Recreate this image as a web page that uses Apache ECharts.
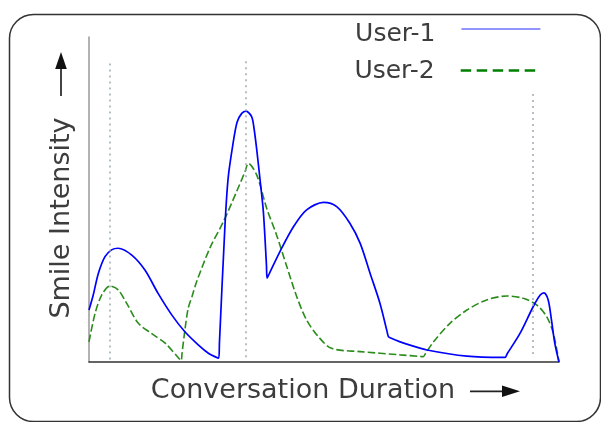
<!DOCTYPE html>
<html>
<head>
<meta charset="utf-8">
<script src="https://cdn.jsdelivr.net/npm/echarts@6/dist/echarts.min.js"></script>
<style>
html,body{margin:0;padding:0;background:#fff;}
#chart{width:601px;height:422px;}
</style>
</head>
<body>
<div id="chart"></div>
<script>
// Series names
var seriesNames = ['User-1', 'User-2'];
// User-1 (solid blue): position in conversation (0-100) and smile intensity (0-100)
var user1X = [0, 0.9, 2.0, 3.4, 4.8, 6.2, 9.1, 11.9, 14.7, 17.6, 20.4, 23.3, 25.4, 27.0, 27.6, 27.75, 28.9, 29.6, 30.6, 31.5, 32.5, 33.4, 34.6, 35.1, 35.7, 36.4, 37.1, 37.75, 37.9, 38.3, 40.6, 43.5, 46.3, 49.9, 52.7, 55.5, 57.7, 59.8, 61.9, 63.4, 63.7, 64.2, 66.2, 68.3, 71.9, 80.4, 87.8, 88.5, 89.0, 91.7, 94.5, 96.0, 96.8, 97.7, 98.4, 99.1, 100];
var user1Y = [16.0, 20.6, 27.3, 32.4, 34.5, 35.0, 32.9, 28.3, 21.1, 14.5, 9.3, 5.2, 2.7, 1.5, 1.2, 5.8, 41.2, 56.5, 66.8, 73.8, 76.5, 77.2, 75.5, 72.0, 65.2, 56.0, 46.2, 30.0, 25.8, 27.0, 33.9, 41.6, 46.8, 49.1, 47.8, 42.7, 36.5, 27.3, 18.1, 9.5, 7.8, 7.4, 6.2, 5.2, 3.7, 1.8, 1.4, 1.4, 2.6, 8.8, 17.0, 20.6, 21.3, 19.1, 12.9, 5.8, 0];
// User-2 (dashed green)
var user2X = [0, 1.3, 2.7, 4.5, 6.2, 8.0, 10.5, 13.3, 16.2, 19.2, 19.6, 19.8, 20.4, 21.1, 21.9, 22.9, 25.7, 28.6, 31.4, 33.2, 33.9, 35.7, 37.8, 39.9, 42.1, 44.2, 46.3, 48.8, 51.6, 57.7, 66.2, 70.6, 71.1, 71.5, 73.3, 76.8, 80.4, 84.6, 88.9, 92.4, 95.3, 97.4, 98.8, 100];
var user2Y = [6.2, 15.0, 20.6, 23.4, 22.2, 18.1, 11.9, 8.8, 5.8, 1.0, 0.4, 2.7, 9.8, 16.5, 20.1, 24.7, 35.0, 43.2, 52.4, 58.6, 61.1, 57.5, 47.3, 39.1, 29.3, 20.1, 12.9, 7.8, 4.2, 3.2, 2.2, 1.7, 1.6, 2.4, 6.2, 11.9, 16.0, 19.1, 20.3, 19.6, 17.5, 13.9, 8.8, 0];
// Vertical dotted reference lines: x position, bottom and top
var guideX = [4.5, 33.4, 94.5];
var guideBottom = [0.8, 1.5, 2.5];
var guideTop = [92, 93.8, 83.7];
// Axis titles
var xTitle = 'Conversation Duration';
var yTitle = 'Smile Intensity';

var font = 'DejaVu Sans';
var textColor = '#3d3d3d';

function pairs(xs, ys) { return xs.map(function (x, i) { return [x, ys[i]]; }); }

function legendFor(name, top, padTop, lineStyle) {
  return {
    orient: 'vertical', right: 60, top: top, padding: 0, align: 'right',
    itemWidth: 79, itemHeight: 14,
    data: [name],
    formatter: '{t|{name}}',
    itemStyle: {color: 'rgba(0,0,0,0)', borderColor: 'rgba(0,0,0,0)', borderWidth: 0, opacity: 0},
    lineStyle: lineStyle,
    textStyle: {
      fontFamily: font, fontSize: 25, color: textColor,
      rich: {t: {fontFamily: font, fontSize: 25, color: textColor, lineHeight: 30, padding: [padTop, 21, 0, 0]}}
    }
  };
}

var chart = echarts.init(document.getElementById('chart'), null, {renderer: 'canvas'});
chart.setOption({
  animation: false,
  backgroundColor: '#ffffff',
  grid: {left: 89, right: 42, top: 37, bottom: 60},
  legend: [
    legendFor(seriesNames[0], 11, 11, {color: '#2b2bff', width: 1.2}),
    legendFor(seriesNames[1], 57, 2, {color: '#007f00', width: 2.6, type: [10.5, 5.5]})
  ],
  xAxis: {
    type: 'value', min: 0, max: 100,
    name: xTitle, nameLocation: 'middle', nameGap: 15,
    nameTextStyle: {fontFamily: font, fontSize: 27, color: textColor, padding: [0, 42, 0, 0]},
    axisLine: {show: true, lineStyle: {color: '#333', width: 1.5}},
    axisTick: {show: false}, axisLabel: {show: false}, splitLine: {show: false}
  },
  yAxis: {
    type: 'value', min: 0, max: 100,
    name: yTitle, nameLocation: 'middle', nameGap: 14,
    nameTextStyle: {fontFamily: font, fontSize: 27, color: textColor, padding: [0, 37, 0, 0]},
    axisLine: {show: true, onZero: false, lineStyle: {color: '#999', width: 1.5}},
    axisTick: {show: false}, axisLabel: {show: false}, splitLine: {show: false}
  },
  graphic: [
    {
      type: 'rect', z: -10, silent: true,
      shape: {x: 9.5, y: 14.5, width: 591, height: 407, r: 24},
      style: {fill: 'none', stroke: '#333', lineWidth: 1.5}
    },
    // arrow after x-axis title
    {type: 'line', silent: true, shape: {x1: 470, y1: 391.3, x2: 506, y2: 391.3}, style: {stroke: '#222', lineWidth: 1.7}},
    {type: 'polygon', silent: true, shape: {points: [[520, 391.3], [502, 385.5], [502, 397.1]]}, style: {fill: '#111'}},
    // arrow after y-axis title
    {type: 'line', silent: true, shape: {x1: 61, y1: 96, x2: 61, y2: 66}, style: {stroke: '#222', lineWidth: 1.7}},
    {type: 'polygon', silent: true, shape: {points: [[61, 52], [55.2, 69], [66.8, 69]]}, style: {fill: '#111'}}
  ],
  series: [
    {
      name: seriesNames[0], type: 'line', symbol: 'none', smooth: 0.3,
      data: pairs(user1X, user1Y),
      lineStyle: {color: '#0000ff', width: 1.7},
      itemStyle: {color: '#0000ff'},
      z: 3,
      markLine: {
        silent: true, symbol: 'none', label: {show: false},
        lineStyle: {color: '#9eaab2', type: [2, 4], width: 1.5},
        data: guideX.map(function (x, i) { return [{coord: [x, guideBottom[i]]}, {coord: [x, guideTop[i]]}]; })
      }
    },
    {
      name: seriesNames[1], type: 'line', symbol: 'none', smooth: 0.3,
      data: pairs(user2X, user2Y),
      lineStyle: {color: '#2a8c1a', width: 1.6, type: [7.5, 3]},
      itemStyle: {color: '#2a8c1a'},
      z: 2
    }
  ]
});
</script>
</body>
</html>
